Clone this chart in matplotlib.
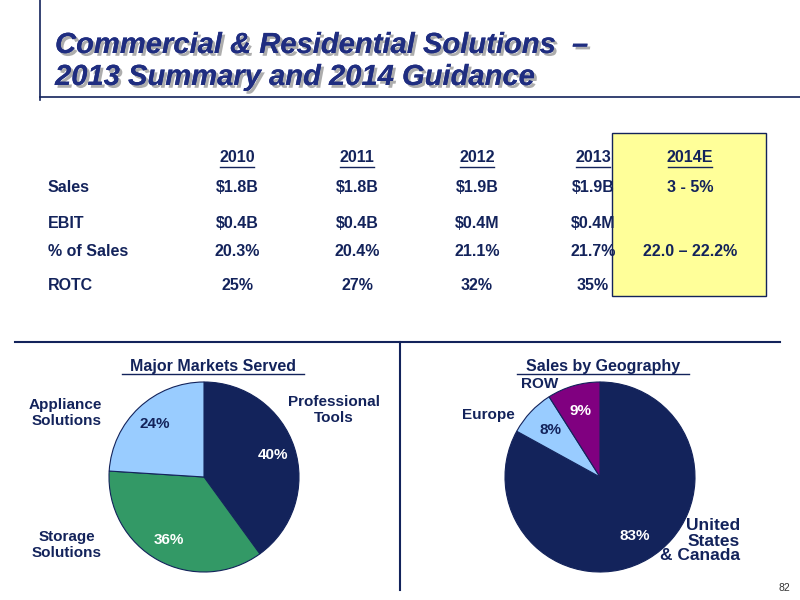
import matplotlib
matplotlib.use("Agg")
import matplotlib.pyplot as plt
import matplotlib.patheffects as pe

plt.rcParams['font.family'] = ['Liberation Sans', 'DejaVu Sans']

years = ["2010", "2011", "2012", "2013", "2014E"]
row_labels = ["Sales", "EBIT", "% of Sales", "ROTC"]
table = [
    ["$1.8B", "$1.8B", "$1.9B", "$1.9B", "3 - 5%"],
    ["$0.4B", "$0.4B", "$0.4M", "$0.4M", ""],
    ["20.3%", "20.4%", "21.1%", "21.7%", "22.0 – 22.2%"],
    ["25%", "27%", "32%", "35%", ""],
]
markets = ["Professional Tools", "Storage Solutions", "Appliance Solutions"]
market_share = [40, 36, 24]
geo = ["United States & Canada", "Europe", "ROW"]
geo_share = [83, 8, 9]

NAVY = "#13235B"
GREEN = "#339966"
LBLUE = "#99CCFF"
PURPLE = "#800080"
TXT = "#13235B"

fig = plt.figure(figsize=(8, 6), dpi=100)
ax = fig.add_axes([0, 0, 1, 1])
ax.set_xlim(0, 800); ax.set_ylim(600, 0); ax.axis('off')

# decorative lines
ax.plot([40, 40], [0, 100], color=NAVY, lw=1.2)
ax.plot([40, 800], [97, 97], color=NAVY, lw=1.2)
ax.plot([15, 780], [342, 342], color=NAVY, lw=1.5)
ax.plot([400, 400], [342, 590], color=NAVY, lw=1.5)

shadow = [pe.withSimplePatchShadow(offset=(2, -2), shadow_rgbFace='#999999', alpha=0.8), pe.Normal()]
for y, s in [(45, "Commercial & Residential Solutions  –"), (77, "2013 Summary and 2014 Guidance")]:
    ax.text(55, y, s, fontsize=21, fontweight='bold', style='italic', color='#1F2D80',
            va='center', ha='left', path_effects=shadow)

# yellow box
ax.add_patch(plt.Rectangle((612, 133), 154, 163, facecolor='#FFFF99', edgecolor=NAVY, lw=1))

col_x = [237, 357, 477, 593, 690]
for x, yr in zip(col_x, years):
    t = ax.text(x, 158, yr, fontsize=11.5, fontweight='bold', color=TXT, ha='center', va='center')
    w = 34 if len(yr) == 4 else 44
    ax.plot([x - w / 2, x + w / 2], [167, 167], color=TXT, lw=1)
row_y = [187, 223, 252, 285]
for y, lab, vals in zip(row_y, row_labels, table):
    ax.text(48, y, lab, fontsize=11.5, fontweight='bold', color=TXT, ha='left', va='center')
    for x, v in zip(col_x, vals):
        ax.text(x, y, v, fontsize=11.5, fontweight='bold', color=TXT, ha='center', va='center')

def pie_axes(cx, cy, r):
    a = fig.add_axes([(cx - r) / 800, (600 - cy - r) / 600, 2 * r / 800, 2 * r / 600])
    return a

# Pie 1
a1 = pie_axes(204, 477, 95)
w1, t1, at1 = a1.pie(market_share, colors=[NAVY, GREEN, LBLUE], startangle=90, counterclock=False,
                     autopct='%d%%', pctdistance=0.76, wedgeprops=dict(edgecolor=NAVY, lw=0.8),
                     textprops=dict(fontsize=11, fontweight='bold'))
for t, c in zip(at1, ['white', 'white', TXT]):
    t.set_color(c)
a1.set_xlim(-1, 1); a1.set_ylim(-1, 1)

# Pie 2
a2 = pie_axes(600, 477, 95)
w2, t2, at2 = a2.pie(geo_share, colors=[NAVY, LBLUE, PURPLE], startangle=90, counterclock=False,
                     autopct='%d%%', pctdistance=0.72, wedgeprops=dict(edgecolor=NAVY, lw=0.8),
                     textprops=dict(fontsize=11, fontweight='bold'))
for t, c in zip(at2, ['white', TXT, 'white']):
    t.set_color(c)
a2.set_xlim(-1, 1); a2.set_ylim(-1, 1)

# titles
ax.text(213, 366, "Major Markets Served", fontsize=11.5, fontweight='bold', color=TXT, ha='center', va='center')
ax.plot([122, 304], [374, 374], color=TXT, lw=1)
ax.text(603, 366, "Sales by Geography", fontsize=11.5, fontweight='bold', color=TXT, ha='center', va='center')
ax.plot([517, 689], [374, 374], color=TXT, lw=1)

lab = dict(fontsize=11, fontweight='bold', color=TXT, va='center', linespacing=1.1)
ax.text(334, 410, "Professional\nTools", ha='center', **lab)
ax.text(102, 413, "Appliance\nSolutions", ha='right', **lab)
ax.text(67, 545, "Storage\nSolutions", ha='center', **lab)
ax.text(540, 384, "ROW", ha='center', **lab)
ax.text(488, 415, "Europe", ha='center', **lab)
ax.text(740, 541, "United\nStates\n& Canada", ha='right', multialignment='right',
        fontsize=12.5, fontweight='bold', color=TXT, va='center', linespacing=1.0)
ax.text(790, 588, "82", fontsize=7.5, color='#333333', ha='right', va='center')

fig.savefig("out.png", dpi=100)
